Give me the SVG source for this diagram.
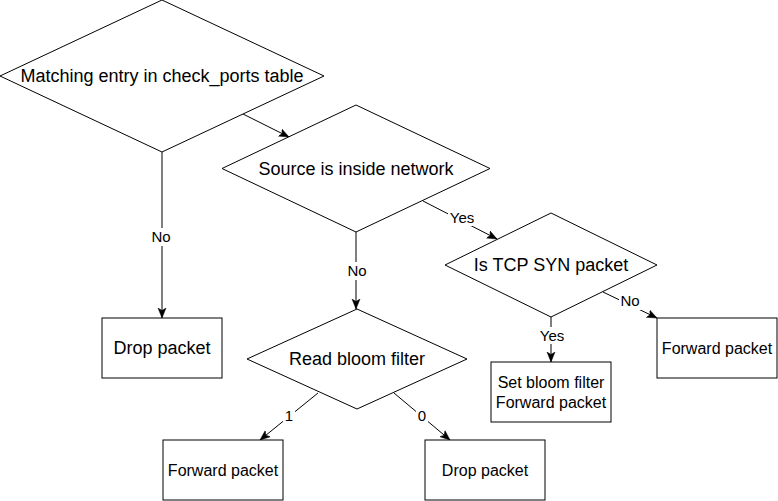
<svg xmlns="http://www.w3.org/2000/svg" width="778" height="501" viewBox="0 0 778 501">
<style>
.shape{fill:#fff;stroke:#000;stroke-width:1}
.edge{fill:none;stroke:#000;stroke-width:1}
text{font-family:"Liberation Sans",Arial,Helvetica,sans-serif;fill:#000;text-anchor:middle}
.t18{font-size:18px}
.t16{font-size:16px}
.lbl{font-size:15px}
.lblbg{fill:#fff;stroke:none}
</style>
<defs>
<marker id="arr" markerUnits="userSpaceOnUse" markerWidth="12" markerHeight="10" refX="10" refY="4" orient="auto" viewBox="0 0 12 8">
<path d="M0,0 L10,4 L0,8 L2.5,4 Z" fill="#000" stroke="#000" stroke-width="0.5"/>
</marker>
</defs>
<rect width="778" height="501" fill="#fff"/>
<g id="connectors">
<line class="edge" x1="243" y1="114" x2="289" y2="137" marker-end="url(#arr)"/>
<line class="edge" x1="162" y1="152" x2="162" y2="318" marker-end="url(#arr)"/>
<line class="edge" x1="423" y1="201" x2="497" y2="239" marker-end="url(#arr)"/>
<line class="edge" x1="356" y1="232" x2="356" y2="309" marker-end="url(#arr)"/>
<line class="edge" x1="603" y1="292" x2="657" y2="318" marker-end="url(#arr)"/>
<line class="edge" x1="551" y1="317" x2="551" y2="362" marker-end="url(#arr)"/>
<line class="edge" x1="318" y1="393" x2="260" y2="440" marker-end="url(#arr)"/>
<line class="edge" x1="394" y1="393" x2="450" y2="440" marker-end="url(#arr)"/>
<rect class="lblbg" x="149" y="228" width="24" height="18"/>
<text class="lbl" x="161" y="242">No</text>
<rect class="lblbg" x="448" y="209" width="28" height="17"/>
<text class="lbl" x="462" y="223">Yes</text>
<rect class="lblbg" x="345" y="262" width="24" height="18"/>
<text class="lbl" x="357" y="276">No</text>
<rect class="lblbg" x="619" y="293" width="23" height="17"/>
<text class="lbl" x="630" y="306">No</text>
<rect class="lblbg" x="538" y="327" width="28" height="17"/>
<text class="lbl" x="552" y="341">Yes</text>
<rect class="lblbg" x="283" y="408" width="12" height="17"/>
<text class="lbl" x="289" y="421">1</text>
<rect class="lblbg" x="416" y="408" width="12" height="17"/>
<text class="lbl" x="422" y="421">0</text>
</g>
<g id="node-check-ports">
<polygon class="shape" points="162,0 324,76 162,152 0,76"/>
<text class="t18" x="162" y="82">Matching entry in check_ports table</text>
</g>
<g id="node-source-inside">
<polygon class="shape" points="356,105 490,168.5 356,232 222,168.5"/>
<text class="t18" x="356" y="175">Source is inside network</text>
</g>
<g id="node-tcp-syn">
<polygon class="shape" points="551,213 657,265 551,317 445,265"/>
<text class="t18" x="551" y="271">Is TCP SYN packet</text>
</g>
<g id="node-read-bloom">
<polygon class="shape" points="357,309 467,359 357,409 247,359"/>
<text class="t18" x="357" y="365">Read bloom filter</text>
</g>
<g id="node-drop1">
<rect class="shape" x="102" y="318" width="120" height="60"/>
<text class="t18" x="162" y="354">Drop packet</text>
</g>
<g id="node-forward-right">
<rect class="shape" x="657" y="318" width="120" height="60"/>
<text class="t16" x="717" y="354">Forward packet</text>
</g>
<g id="node-set-bloom">
<rect class="shape" x="491" y="362" width="120" height="60"/>
<text class="t16" x="551" y="388">Set bloom filter</text>
<text class="t16" x="551" y="408">Forward packet</text>
</g>
<g id="node-forward-bottom">
<rect class="shape" x="163" y="440" width="120" height="60"/>
<text class="t16" x="223" y="476">Forward packet</text>
</g>
<g id="node-drop2">
<rect class="shape" x="425" y="440" width="120" height="60"/>
<text class="t16" x="485" y="476">Drop packet</text>
</g>
</svg>
